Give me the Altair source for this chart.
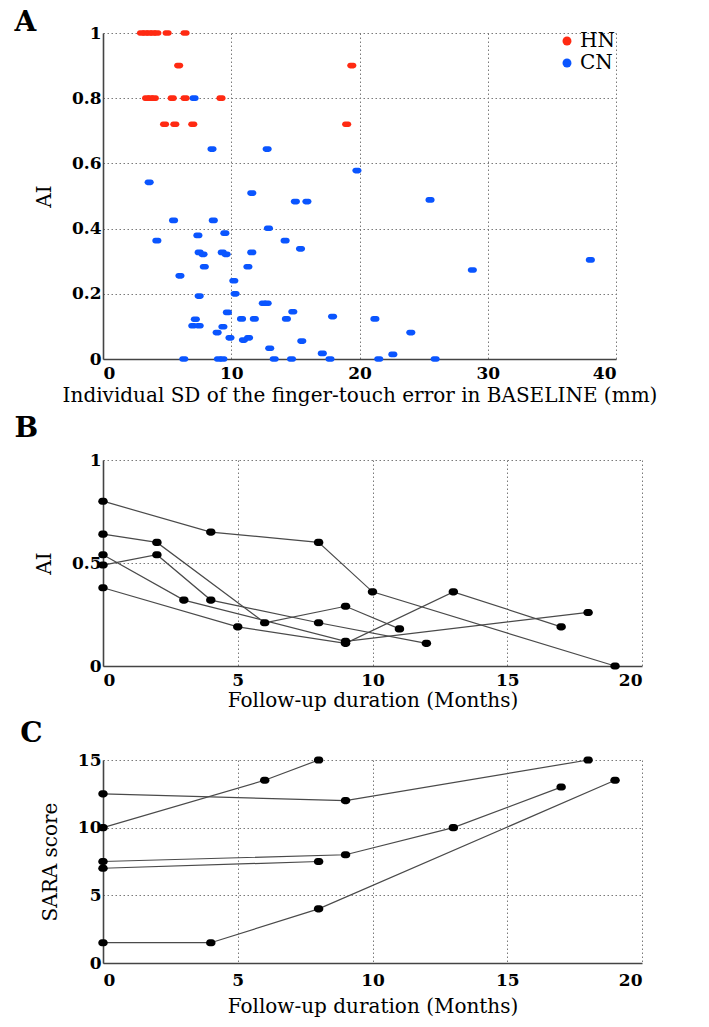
import altair as alt
import pandas as pd

# ---------------- Panel A data ----------------
hn_x = [3.0, 3.3, 3.6, 3.9, 4.2, 5.0, 6.4, 5.9, 19.4, 3.4, 3.7, 4.0, 5.4, 6.4, 9.2, 4.8, 5.6, 7.0, 19.0]
hn_y = [1.0, 1.0, 1.0, 1.0, 1.0, 1.0, 1.0, 0.9, 0.9, 0.8, 0.8, 0.8, 0.8, 0.8, 0.8, 0.72, 0.72, 0.72, 0.72]

cn_x = [7.1, 8.5, 12.8, 19.8, 3.6, 11.6, 15.0, 15.9, 25.5, 5.5, 8.6, 12.9, 14.2, 4.2, 7.4, 9.5,
        7.5, 7.8, 9.3, 9.6, 11.6, 15.4, 7.9, 11.3, 6.0, 10.2, 7.5, 10.3, 12.5, 12.8, 9.7, 14.8,
        7.2, 10.8, 11.8, 14.3, 17.9, 21.2, 7.0, 7.5, 9.35, 8.9, 24.0, 9.9, 10.95, 11.35, 15.5,
        13.0, 17.1, 22.6, 6.3, 9.0, 9.35, 13.35, 14.7, 17.7, 21.5, 25.9, 28.8, 38.0]
cn_y = [0.80, 0.644, 0.644, 0.578, 0.542, 0.509, 0.483, 0.483, 0.488, 0.425, 0.425, 0.401, 0.363, 0.363, 0.379, 0.386,
        0.327, 0.321, 0.327, 0.321, 0.327, 0.338, 0.283, 0.283, 0.255, 0.24, 0.193, 0.2, 0.171, 0.171, 0.143, 0.145,
        0.122, 0.123, 0.123, 0.123, 0.13, 0.123, 0.102, 0.102, 0.099, 0.081, 0.081, 0.065, 0.058, 0.065, 0.055,
        0.033, 0.017, 0.014, 0.0, 0.0, 0.0, 0.0, 0.0, 0.0, 0.0, 0.0, 0.273, 0.304]

# ---------------- Panel B data (AI follow-up) ----------------
b1_m = [0, 4, 8, 10, 19]; b1_ai = [0.80, 0.65, 0.60, 0.36, 0.0]
b2_m = [0, 2, 6, 9, 11];  b2_ai = [0.64, 0.60, 0.21, 0.29, 0.18]
b3_m = [0, 2, 4, 8, 12];  b3_ai = [0.49, 0.54, 0.32, 0.21, 0.11]
b4_m = [0, 3, 9, 18];     b4_ai = [0.54, 0.32, 0.12, 0.26]
b5_m = [0, 5, 9, 13, 17]; b5_ai = [0.38, 0.19, 0.11, 0.36, 0.19]

# ---------------- Panel C data (SARA follow-up) ----------------
c1_m = [0, 6, 8];        c1_s = [10, 13.5, 15]
c2_m = [0, 9, 18];       c2_s = [12.5, 12, 15]
c3_m = [0, 9, 13, 17];   c3_s = [7.5, 8, 10, 13]
c4_m = [0, 8];           c4_s = [7, 7.5]
c5_m = [0, 4, 8, 19];    c5_s = [1.5, 1.5, 4, 13.5]

FONT = "DejaVu Serif"
RED = "#ff2a12"
BLUE = "#0a55ff"
STADIUM = "M-0.38,-0.62 L0.38,-0.62 A0.62,0.62 0 0,1 0.38,0.62 L-0.38,0.62 A0.62,0.62 0 0,1 -0.38,-0.62 Z"
STADIUM2 = "M-0.25,-0.75 L0.25,-0.75 A0.75,0.75 0 0,1 0.25,0.75 L-0.25,0.75 A0.75,0.75 0 0,1 -0.25,-0.75 Z"

dfa = pd.DataFrame({
    "x": hn_x + cn_x,
    "y": hn_y + cn_y,
    "g": ["HN"] * len(hn_x) + ["CN"] * len(cn_x),
    "o": [1] * len(hn_x) + [0] * len(cn_x),
})

def panel_title(t, off, dy):
    return alt.TitleParams(t, anchor="start", frame="bounds", font=FONT, fontSize=28,
                           fontWeight="bold", color="black", dx=-20, dy=dy, offset=off)

def xaxis(title, values, lp, tp):
    return alt.Axis(title=title, values=values, format="d", grid=True,
                    labelPadding=lp, titlePadding=tp)

def yaxis(title, values, fmt, pad=17):
    return alt.Axis(title=title, values=values, format=fmt, grid=True, titlePadding=pad)

chartA = alt.Chart(dfa).mark_point(filled=True, shape=STADIUM, size=84, opacity=1).encode(
    x=alt.X("x:Q", scale=alt.Scale(domain=[0, 40], nice=False),
            axis=xaxis("Individual SD of the finger-touch error in BASELINE (mm)", [0, 10, 20, 30, 40], 6, 4)),
    y=alt.Y("y:Q", scale=alt.Scale(domain=[0, 1], nice=False),
            axis=yaxis("AI", [0, 0.2, 0.4, 0.6, 0.8, 1], "~r")),
    color=alt.Color("g:N", scale=alt.Scale(domain=["HN", "CN"], range=[RED, BLUE]),
                    legend=alt.Legend(title=None, orient="none", legendX=454, legendY=-2,
                                      symbolType="circle", symbolSize=80, labelFont=FONT,
                                      labelFontSize=20, rowPadding=2, symbolOffset=0,
                                      labelOffset=3)),
    order=alt.Order("o:Q"),
).properties(width=513, height=326, title=panel_title("A", -4, 9))

def series_df(ms, vs, name):
    rows = []
    for i, (m, v) in enumerate(zip(ms, vs)):
        for a, b in zip(m, v):
            rows.append({"m": a, "v": b, "p": f"{name}{i}"})
    return pd.DataFrame(rows)

dfb = series_df([b1_m, b2_m, b3_m, b4_m, b5_m], [b1_ai, b2_ai, b3_ai, b4_ai, b5_ai], "b")
dfc = series_df([c1_m, c2_m, c3_m, c4_m, c5_m], [c1_s, c2_s, c3_s, c4_s, c5_s], "c")

def follow_panel(df, ytitle, ydom, yvals, fmt, letter, h, off, dy, lp, tp):
    xenc = alt.X("m:Q", scale=alt.Scale(domain=[0, 20], nice=False),
                 axis=xaxis("Follow-up duration (Months)", [0, 5, 10, 15, 20], lp, tp))
    yenc = alt.Y("v:Q", scale=alt.Scale(domain=ydom, nice=False), axis=yaxis(ytitle, yvals, fmt))
    base = alt.Chart(df).encode(x=xenc, y=yenc, detail="p:N")
    lines = base.mark_line(color="#4a4a4a", strokeWidth=1.2).encode(order="m:Q")
    pts = base.mark_point(filled=True, shape=STADIUM2, size=90, color="black", opacity=1)
    return alt.layer(lines, pts).properties(width=539, height=h, title=panel_title(letter, off, dy))

chartB = follow_panel(dfb, "AI", [0, 1], [0, 0.5, 1], "~r", "B", 206, 18, 10, 6, 2)
chartC = follow_panel(dfc, "SARA score", [0, 15], [0, 5, 10, 15], "d", "C", 203, 11, 8, 9, 8)

chart = alt.vconcat(chartA, chartB, chartC, spacing=10).properties(
    padding={"left": 14, "top": 9, "right": 5, "bottom": 5}
).configure(
    font=FONT,
).configure_view(
    stroke=None
).configure_axis(
    domainColor="#444444", domainWidth=1.6,
    gridColor="#7a7a7a", gridDash=[1.5, 2.5], gridWidth=1, gridOpacity=1,
    ticks=False,
    labelFont=FONT, labelFontSize=17, labelFontWeight="bold", labelColor="black",
    titleFont=FONT, titleFontSize=20, titleFontWeight="normal", titleColor="black",
)

chart.save("out.html", embed_options={"renderer": "svg", "actions": False})
